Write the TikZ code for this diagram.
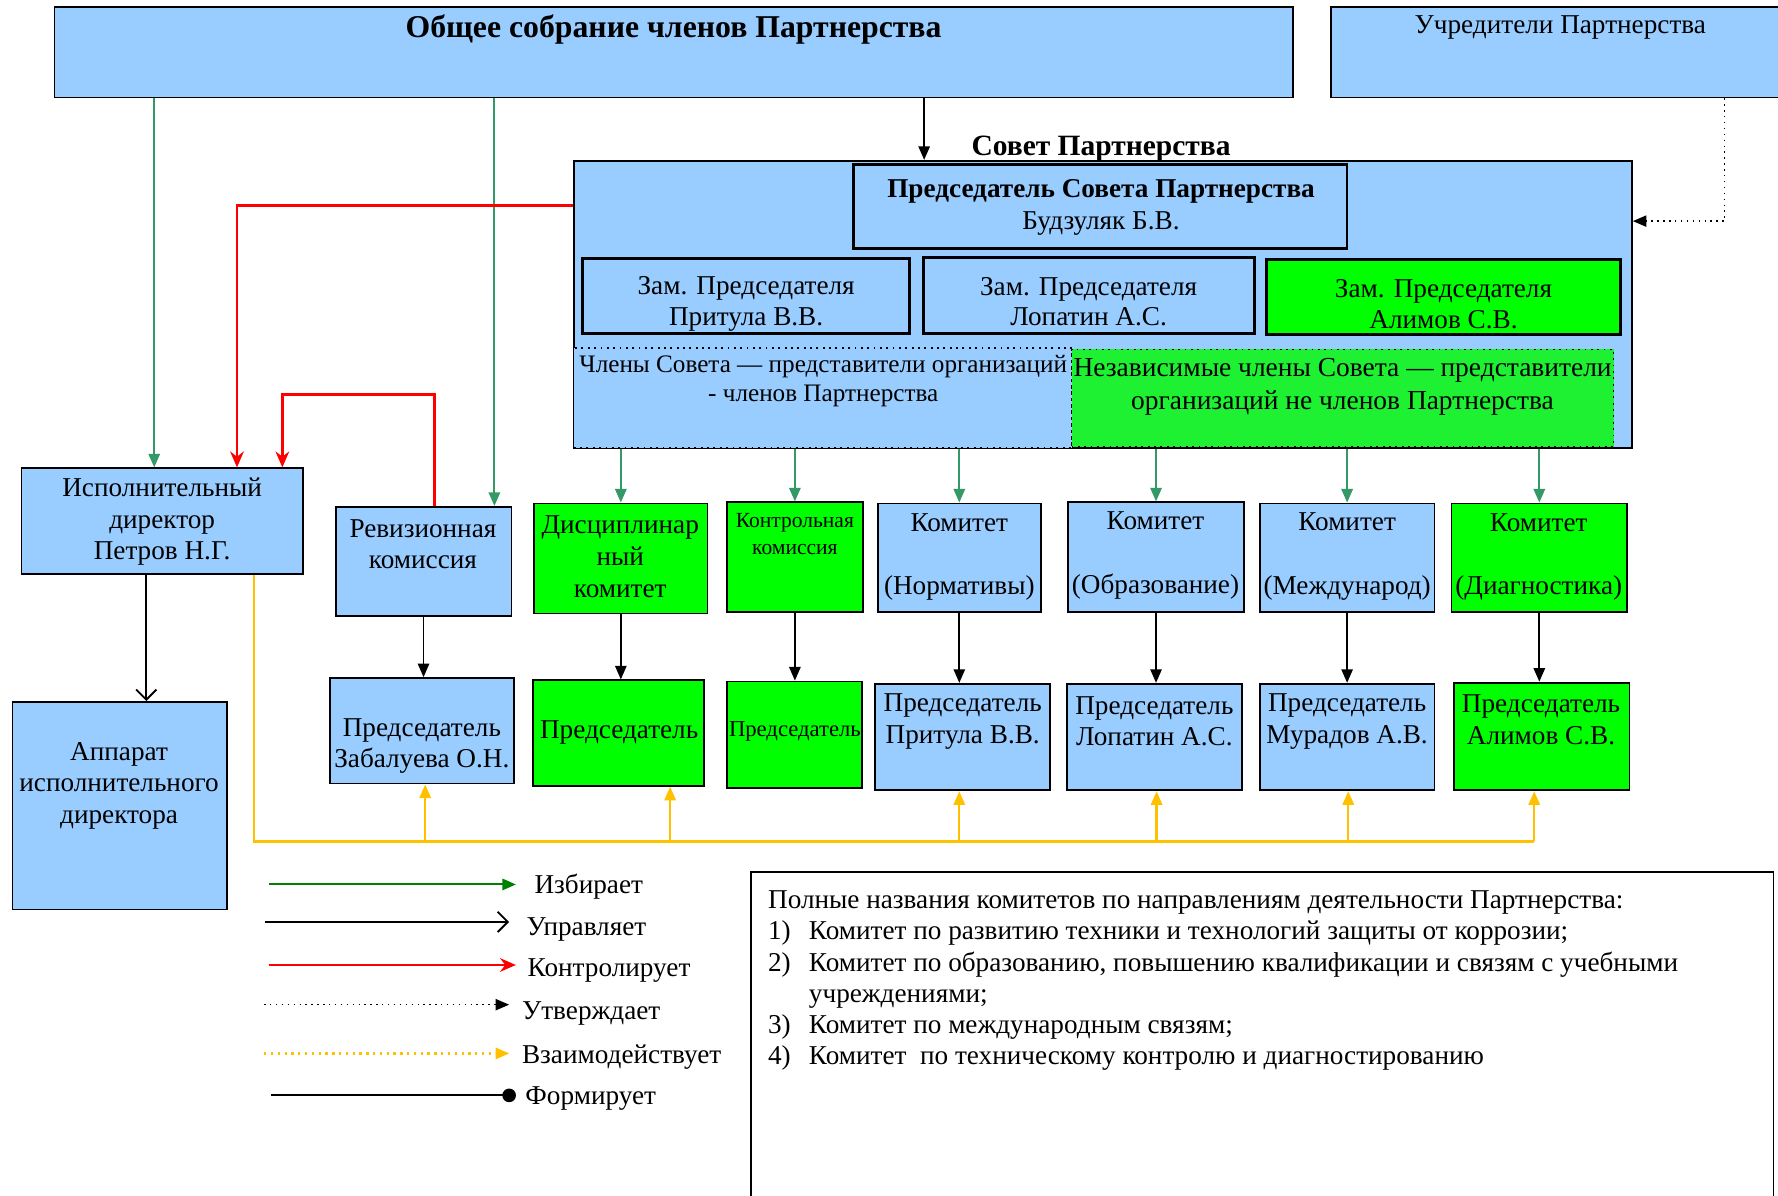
\documentclass[tikz,border=0pt]{standalone}
\usepackage{fontspec}
\setmainfont{Liberation Serif}
\usetikzlibrary{arrows.meta,fit}
\definecolor{cblue}{HTML}{99CCFF}
\definecolor{cgreen}{HTML}{00FF00}
\definecolor{cgreentwo}{RGB}{30,240,50}
\definecolor{celect}{HTML}{339966}
\definecolor{clegend}{HTML}{008000}
\definecolor{cyellow}{HTML}{FFC000}
\begin{document}
\begin{tikzpicture}[x=0.5pt,y=-0.5pt,
  box/.style={draw=black,line width=0.8pt,inner sep=0pt,rectangle},
  bbox/.style={box,fill=cblue},
  gbox/.style={box,fill=cgreen},
  txt/.style={font=\fontsize{12}{14}\selectfont,align=center,inner sep=0pt,yshift=-1pt},
  smalltxt/.style={font=\fontsize{9.5}{11.5}\selectfont,align=center,inner sep=0pt,yshift=-1pt},
  lgtxt/.style={font=\fontsize{12}{14}\selectfont,anchor=west,inner sep=0pt,yshift=-1pt},
  elect/.style={draw=celect,line width=0.9pt,-{Triangle[length=6pt,width=5pt]}},
  manage/.style={draw=black,line width=0.8pt,-{Triangle[length=6pt,width=5pt]}},
  manageopen/.style={draw=black,line width=0.8pt,-{Straight Barb[length=4.5pt,width=9pt,line width=0.8pt]}},
  control/.style={draw=red,line width=1.2pt,-{Stealth[length=7pt,width=6pt]}},
  approve/.style={draw=black,line width=0.6pt,dotted,-{Triangle[length=6pt,width=5pt]}},
  interact/.style={draw=cyellow,line width=1pt},
  interactarrow/.style={draw=cyellow,line width=1pt,-{Triangle[length=6pt,width=5pt]}},
  form/.style={draw=black,line width=0.9pt,-{Circle[length=6pt]}}
]
\useasboundingbox (0,0) rectangle (1568,1054);

% top boxes
\node[bbox,fit={(48,6)(1140,86)}] (obs) {};
\node[txt,font=\fontsize{14}{16}\selectfont\bfseries] (obsT) at (594,24) {Общее собрание членов Партнерства};
\node[bbox,fit={(1174,6)(1574,86)}] (ucr) {};
\node[txt] (ucrT) at (1376,22) {Учредители Партнерства};

% council
\node[bbox,line width=1pt,fit={(506,142)(1439,395)}] (sovet) {};
\node[txt,font=\fontsize{13}{15}\selectfont\bfseries] (sovetT) at (971,129) {Совет Партнерства};
\node[bbox,line width=1.2pt,fit={(753,145)(1188,219)}] (pred) {};
\node[txt] (predT) at (971,181) {{\bfseries Председатель Совета Партнерства}\\Будзуляк Б.В.};
\node[bbox,line width=1.3pt,fit={(514,228)(802,294)}] (z1) {};
\node[txt,font=\fontsize{12}{13.5}\selectfont] (z1T) at (658,266) {Зам. Председателя\\Притула В.В.};
\node[bbox,line width=1.3pt,fit={(814,227)(1106,294)}] (z2) {};
\node[txt,font=\fontsize{12}{13.5}\selectfont] (z2T) at (960,264) {Зам. Председателя\\Лопатин А.С.};
\node[gbox,line width=1.3pt,fit={(1117,229)(1429,295)}] (z3) {};
\node[txt,font=\fontsize{12}{13.5}\selectfont] (z3T) at (1273,266) {Зам. Председателя\\Алимов С.В.};
\node[box,fill=cblue,dotted,line width=0.6pt,fit={(506,307)(945,395)}] (mem) {};
\node[txt,font=\fontsize{11.1}{12.5}\selectfont] (memT) at (726,334) {Члены Совета — представители организаций\\- членов Партнерства};
\node[box,fill=cgreentwo,dotted,line width=0.6pt,fit={(945,308)(1423,394)}] (ind) {};
\node[txt,font=\fontsize{12.1}{14.5}\selectfont] (indT) at (1184,339) {Независимые члены Совета — представители\\организаций не членов Партнерства};

% left column
\node[bbox,fit={(19,413)(267,506)}] (exec) {};
\node[txt] (execT) at (143,458) {Исполнительный\\директор\\Петров Н.Г.};
\node[bbox,fit={(11,619)(200,802)}] (app) {};
\node[txt] (appT) at (105,691) {Аппарат\\исполнительного\\директора};

% committees
\node[bbox,fit={(296,447)(451,543)}] (rev) {};
\node[txt] (revT) at (373,478) {Ревизионная\\комиссия};
\node[bbox,fit={(291,598)(453,691)}] (chR) {};
\node[txt] (chRT) at (372,656) {Председатель\\Забалуева О.Н.};

\node[gbox,fit={(471,444)(624,541)}] (dis) {};
\node[txt] (disT) at (547,489) {Дисциплинар\\ный\\комитет};
\node[gbox,fit={(470,600)(621,693)}] (chD) {};
\node[txt] (chDT) at (546,644) {Председатель};

\node[gbox,fit={(641,443)(761,540)}] (kon) {};
\node[smalltxt] (konT) at (701,469) {Контрольная\\комиссия};
\node[gbox,fit={(641,601)(760,695)}] (chK) {};
\node[smalltxt,font=\fontsize{10}{12}\selectfont] (chKT) at (701,643) {Председатель};

\node[bbox,fit={(774,444)(918,540)}] (c1) {};
\node[txt] (c1T) at (846,489) {Комитет\\\strut\\(Нормативы)};
\node[bbox,fit={(772,603)(926,697)}] (ch1) {};
\node[txt] (ch1T) at (849,634) {Председатель\\Притула В.В.};

\node[bbox,fit={(942,443)(1097,540)}] (c2) {};
\node[txt] (c2T) at (1019,488) {Комитет\\\strut\\(Образование)};
\node[bbox,fit={(941,603)(1095,697)}] (ch2) {};
\node[txt] (ch2T) at (1018,634) {Председатель\\Лопатин А.С.};

\node[bbox,fit={(1111,444)(1265,540)}] (c3) {};
\node[txt] (c3T) at (1188,489) {Комитет\\\strut\\(Международ)};
\node[bbox,fit={(1111,603)(1265,697)}] (ch3) {};
\node[txt] (ch3T) at (1188,634) {Председатель\\Мурадов А.В.};

\node[gbox,fit={(1280,444)(1435,540)}] (c4) {};
\node[txt] (c4T) at (1357,489) {Комитет\\\strut\\(Диагностика)};
\node[gbox,fit={(1282,602)(1437,697)}] (ch4) {};
\node[txt] (ch4T) at (1359,633) {Председатель\\Алимов С.В.};

% note box
\node[box,fit={(662,769)(1564,1090)}] (note) {};
\node[font=\fontsize{12}{13.8}\selectfont,align=left,anchor=north west,inner sep=0pt] (noteT) at (677,785) {%
Полные названия комитетов по направлениям деятельности Партнерства:\\
\makebox[18pt][l]{1)}Комитет по развитию техники и технологий защиты от коррозии;\\
\makebox[18pt][l]{2)}Комитет по образованию, повышению квалификации и связям с учебными\\
\hspace*{18pt}учреждениями;\\
\makebox[18pt][l]{3)}Комитет по международным связям;\\
\makebox[18pt][l]{4)}Комитет\ \ по техническому контролю и диагностированию};

% connectors: elect
\coordinate (gA) at (136,0);
\coordinate (gB) at (436,0);
\draw[elect] (obs.south -| gA) -- (gA |- exec.north);
\draw[elect] (obs.south -| gB) -- (gB |- rev.north);
\draw[elect] (dis.north |- sovet.south) -- (dis.north);
\draw[elect] (kon.north |- sovet.south) -- (kon.north);
\draw[elect] (c1.north |- sovet.south) -- (c1.north);
\draw[elect] (c2.north |- sovet.south) -- (c2.north);
\draw[elect] (c3.north |- sovet.south) -- (c3.north);
\draw[elect] (c4.north |- sovet.south) -- (c4.north);

% manage
\coordinate (bA) at (815,0);
\draw[manage] (obs.south -| bA) -- (bA |- sovet.north);
\coordinate (bE) at (129,0);
\draw[manageopen] (exec.south -| bE) -- (bE |- app.north);
\draw[manage] (rev.south) -- (rev.south |- chR.north);
\draw[manage] (dis.south) -- (dis.south |- chD.north);
\draw[manage] (kon.south) -- (kon.south |- chK.north);
\draw[manage] (c1.south) -- (c1.south |- ch1.north);
\draw[manage] (c2.south) -- (c2.south |- ch2.north);
\draw[manage] (c3.south) -- (c3.south |- ch3.north);
\draw[manage] (c4.south) -- (c4.south |- ch4.north);

% control
\coordinate (r1) at (209,181);
\draw[control] (sovet.west |- r1) -- (r1) -- (r1 |- exec.north);
\coordinate (r2a) at (383,348);
\coordinate (r2b) at (249,348);
\draw[control] (rev.north -| r2a) -- (r2a) -- (r2b) -- (r2b |- exec.north);

% approve
\coordinate (d1) at (1521,195);
\draw[approve] (ucr.south -| d1) -- (d1) -- (d1 -| sovet.east);

% interact
\coordinate (ybA) at (224,742);
\coordinate (y1) at (375,742);
\coordinate (y2) at (591,742);
\coordinate (y3) at (846,742);
\coordinate (y4) at (1020,742);
\coordinate (y5) at (1189,742);
\coordinate (y6) at (1353,742);
\draw[interact] (exec.south -| ybA) -- (ybA) -- (y6);
\draw[interactarrow] (y1) -- (y1 |- chR.south);
\draw[interactarrow] (y2) -- (y2 |- chD.south);
\draw[interactarrow] (y3) -- (y3 |- ch1.south);
\draw[interactarrow] (y4) -- (y4 |- ch2.south);
\draw[interactarrow] (y5) -- (y5 |- ch3.south);
\draw[interactarrow] (y6) -- (y6 |- ch4.south);

% legend
\coordinate (la1) at (237,780); \coordinate (lb1) at (455,780);
\coordinate (la2) at (234,813); \coordinate (lb2) at (449,813);
\coordinate (la3) at (237,851); \coordinate (lb3) at (455,851);
\coordinate (la4) at (233,886); \coordinate (lb4) at (449,886);
\coordinate (la5) at (233,929); \coordinate (lb5) at (449,929);
\coordinate (la6) at (239,966); \coordinate (lb6) at (455,966);
\draw[elect,draw=clegend] (la1) -- (lb1);
\draw[manageopen] (la2) -- (lb2);
\draw[control,line width=1.1pt] (la3) -- (lb3);
\draw[approve] (la4) -- (lb4);
\draw[interactarrow,dotted] (la5) -- (lb5);
\draw[form] (la6) -- (lb6);
\node[lgtxt] (l1) at (471,780) {Избирает};
\node[lgtxt] (l2) at (464,818) {Управляет};
\node[lgtxt] (l3) at (465,854) {Контролирует};
\node[lgtxt] (l4) at (460,892) {Утверждает};
\node[lgtxt] (l5) at (460,930) {Взаимодействует};
\node[lgtxt] (l6) at (463,967) {Формирует};
\end{tikzpicture}
\end{document}
